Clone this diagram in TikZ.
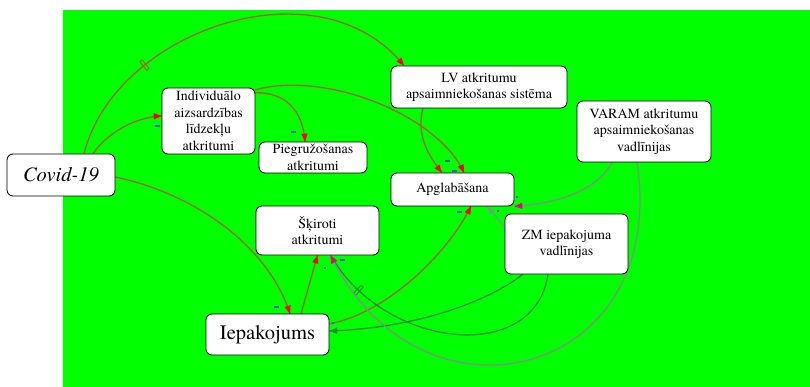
\documentclass[tikz,border=0pt]{standalone}
\usepackage{fontspec}
\setmainfont{texgyretermes}[Extension=.otf, UprightFont=*-regular,
  ItalicFont=*-italic, BoldFont=*-bold, BoldItalicFont=*-bolditalic]
\usetikzlibrary{decorations.markings}
\definecolor{canvasgreen}{RGB}{0,255,0}
\definecolor{linkbrown}{RGB}{160,100,40}
\definecolor{linkgreen}{RGB}{34,140,46}
\definecolor{linkgrey}{RGB}{138,138,138}
\definecolor{linksage}{RGB}{110,165,120}
\definecolor{polblue}{RGB}{30,90,220}

\begin{document}
\begin{tikzpicture}[x=1pt,y=-1pt,
  slot/.style={rectangle, inner sep=0pt, draw=none, fill=none},
  box/.style={draw=black, line width=0.8pt, rounded corners=6pt, fill=white,
    inner sep=0pt, align=center, font=\fontsize{14}{16.5}\selectfont},
  bigbox/.style={box, font=\fontsize{20.5}{24}\selectfont},
  % a link: the line in colour #1, a filled head in colour #2 at its end
  link/.style 2 args={color=#1, draw, line width=1.3pt,
    postaction={decorate, decoration={markings,
      mark=at position -0.1pt with
        {\fill[color=#2] (-8pt,-3.2pt) -- (0pt,0pt) -- (-8pt,3.2pt) -- cycle;}}}},
  brownlink/.style={link={linkbrown}{red}},
  greenlink/.style={link={linkgreen}{linkgreen}},
  greylink/.style={link={linkgrey}{magenta}},
  sagelink/.style={link={linksage}{linksage}},
  delaymark/.style={sloped, color=#1, draw, line width=0.9pt, fill=none,
    minimum width=3pt, minimum height=11pt, inner sep=0pt},
  poldash/.pic={\fill[polblue] (-2.5,-1) rectangle (2.5,1);},
  poldot/.pic={\fill[polblue] (-1,-1) rectangle (1,1);}
]
\useasboundingbox (0,0) rectangle (810,387);
\fill[canvasgreen] (63,10) rectangle (810,387);

% box outlines, used as the ends of the links
\path
  node[slot, minimum width=108pt, minimum height=42pt] (covid) at (61,175) {}
  node[slot, minimum width=93pt,  minimum height=66pt] (ind)   at (208.5,121) {}
  node[slot, minimum width=108pt, minimum height=31pt] (pieg)  at (313,157.5) {}
  node[slot, minimum width=176pt, minimum height=42pt] (lv)    at (479,87) {}
  node[slot, minimum width=134pt, minimum height=61pt] (varam) at (644,131.5) {}
  node[slot, minimum width=123pt, minimum height=33pt] (apgl)  at (452.5,189.5) {}
  node[slot, minimum width=123pt, minimum height=49pt] (skir)  at (317.5,230.5) {}
  node[slot, minimum width=123pt, minimum height=41pt] (iepak) at (267.5,334.5) {}
  node[slot, minimum width=123pt, minimum height=60pt] (zm)    at (566.5,244) {};

% links
\draw[brownlink] ([xshift=23pt]covid.north)
  .. controls (115,30) and (320,-40) .. ([xshift=-75pt]lv.north)
  node[delaymark=linkbrown, pos=0.28] {};
\draw[brownlink] ([xshift=32pt]covid.north)
  .. controls (107,133) and (135,117) .. ([yshift=5pt]ind.west);
\draw[brownlink] ([yshift=-5pt]ind.north east)
  .. controls (285,92) and (303,110) .. ([xshift=-8pt]pieg.north);
\draw[brownlink] ([yshift=-2pt]ind.north east)
  .. controls (330,70) and (440,118) .. ([xshift=11.5pt]apgl.north);
\draw[brownlink] ([xshift=-56pt]lv.south)
  .. controls (416,135) and (428,155) .. ([xshift=-10.5pt]apgl.north);
\draw[brownlink] ([yshift=-2pt]covid.east)
  .. controls (200,195) and (270,250) .. ([xshift=22.5pt]iepak.north);
\draw[brownlink] ([xshift=33.5pt]iepak.north) -- (skir.south);
\draw[brownlink] ([yshift=10.5pt]iepak.east)
  .. controls (390,312) and (450,250) .. ([xshift=18.5pt]apgl.south);
\draw[greenlink] ([xshift=-43.5pt]zm.south)
  .. controls (490,300) and (420,328) .. ([yshift=3.5pt]iepak.east);
\draw[greenlink] ([xshift=-18.5pt]zm.south)
  .. controls (535,365) and (385,350) .. ([xshift=13pt]skir.south)
  node[delaymark=linkgreen, pos=0.86] {};
\draw[greylink] ([xshift=-7pt]varam.south)
  .. controls (670,380) and (420,440) .. ([xshift=13pt]skir.south);
\draw[greylink] ([xshift=-32pt]varam.south)
  .. controls (595,195) and (545,205) .. (apgl.south east);
\draw[sagelink] ([yshift=17pt]zm.west) -- ([xshift=34.5pt]apgl.south);

% boxes with their texts, over the links
\node[bigbox, font=\fontsize{20.5}{24}\selectfont\itshape,
      minimum width=108pt, minimum height=42pt] (covidbox) at (covid) {Covid-19};
\node[box, minimum width=93pt, minimum height=66pt] (indbox) at (ind)
  {Individuālo\\aizsardzības\\līdzekļu\\atkritumi};
\node[box, minimum width=108pt, minimum height=31pt] (piegbox) at (pieg)
  {Piegružošanas\\atkritumi};
\node[box, minimum width=176pt, minimum height=42pt] (lvbox) at (lv)
  {LV atkritumu\\apsaimniekošanas sistēma};
\node[box, minimum width=134pt, minimum height=61pt] (varambox) at (varam)
  {VARAM atkritumu\\apsaimniekošanas\\vadlīnijas};
\node[box, minimum width=123pt, minimum height=33pt] (apglbox) at (apgl)
  {Apglabāšana};
\node[box, minimum width=123pt, minimum height=49pt] (skirbox) at (skir)
  {Šķiroti\\atkritumi};
\node[bigbox, minimum width=123pt, minimum height=41pt] (iepakbox) at (iepak)
  {Iepakojums};
\node[box, minimum width=123pt, minimum height=60pt] (zmbox) at (zm)
  {ZM iepakojuma\\vadlīnijas};

% polarity marks
\pic at (157,126) {poldash};
\pic at (293,132) {poldash};
\pic at (447,161) {poldash};
\pic at (454,171) {poldash};
\pic at (459,212) {poldash};
\pic at (517,197) {poldot};
\pic at (498,211) {poldot};
\pic at (342,260) {poldash};
\pic at (325,268) {poldot};
\pic at (276,307) {poldash};
\pic at (333,323) {poldot};
\end{tikzpicture}
\end{document}
